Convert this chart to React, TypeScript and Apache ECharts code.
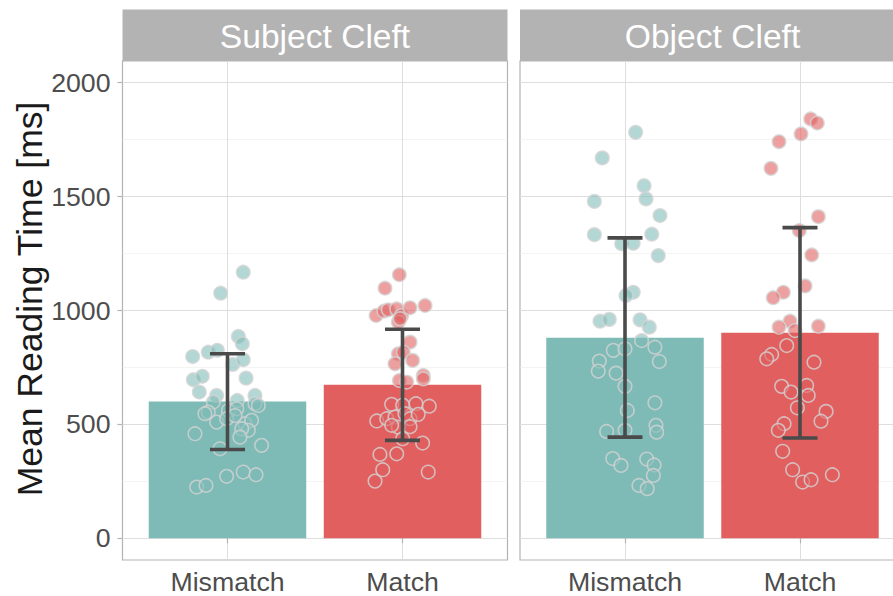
import React, { useEffect, useRef } from "react";
import * as echarts from "echarts";

// Facets, categories and summary statistics (mean reading time and error bar bounds, ms)
const panels = ["Subject Cleft", "Object Cleft"];
const categories = ["Mismatch", "Match"];

const subjectMeans = [600, 674];
const subjectErrLow = [390, 430];
const subjectErrHigh = [810, 918];

const objectMeans = [880, 902];
const objectErrLow = [444, 440];
const objectErrHigh = [1319, 1364];

const yTicks = [0, 500, 1000, 1500, 2000];
const yMinorTicks = [250, 750, 1250, 1750];
const yTitle = "Mean Reading Time [ms]";

// Per-participant means, [jittered category position, ms]
const subjectMismatchPoints = [
  [1.09, 1168], [0.961, 1076], [1.062, 886], [1.085, 854], [0.801, 798], [0.89, 817],
  [0.942, 825], [1.03, 763], [1.09, 784], [0.805, 696], [0.856, 711], [1.106, 703],
  [0.839, 642], [1.157, 627], [0.938, 627], [0.919, 598], [1.056, 605], [1.157, 591],
  [1.176, 583], [0.89, 554], [0.871, 547], [1.005, 561], [1.053, 569], [0.938, 510],
  [0.995, 525], [1.1, 503], [1.138, 518], [1.119, 474], [1.081, 481], [1.071, 444],
  [0.814, 459], [0.957, 393], [1.195, 408], [0.995, 272], [1.09, 291], [1.163, 279],
  [0.824, 225], [0.877, 232], [1.043, 539],
];

const subjectMatchPoints = [
  [1.982, 1157], [1.9, 1098], [1.849, 978], [1.894, 997], [1.919, 1003], [1.967, 1007],
  [1.995, 978], [2.043, 1012], [2.129, 1022], [1.976, 949], [2.043, 861], [1.976, 810],
  [2.005, 817], [2.058, 781], [1.957, 766], [1.982, 693], [2.024, 686], [2.119, 715],
  [2.119, 700], [1.938, 588], [2.001, 585], [2.077, 591], [2.153, 580], [1.853, 515],
  [1.91, 525], [1.957, 532], [2.014, 547], [2.043, 525], [2.09, 544], [1.976, 488],
  [2.043, 490], [2.001, 437], [2.115, 418], [1.871, 368], [1.967, 371], [1.887, 301],
  [1.843, 251], [2.147, 291], [1.938, 496], [1.986, 964],
];

const objectMismatchPoints = [
  [1.061, 1782], [0.87, 1670], [1.109, 1548], [1.12, 1490], [0.825, 1479], [1.2, 1417],
  [0.825, 1333], [1.153, 1335], [0.981, 1293], [1.047, 1295], [1.19, 1241], [1.047, 1080],
  [1.006, 1066], [0.857, 953], [0.91, 961], [1.086, 959], [1.139, 927], [1.095, 868],
  [0.933, 825], [1.0, 832], [1.171, 839], [0.853, 778], [1.196, 776], [0.847, 734],
  [0.949, 725], [1.0, 667], [1.013, 561], [1.171, 595], [0.895, 469], [1.0, 474],
  [1.177, 496], [1.181, 466], [0.93, 350], [0.977, 320], [1.124, 348], [1.166, 322],
  [1.162, 276], [1.08, 232], [1.127, 218],
];

const objectMatchPoints = [
  [2.061, 1841], [2.099, 1823], [2.006, 1775], [1.88, 1741], [1.834, 1624], [2.105, 1412],
  [1.996, 1351], [2.067, 1244], [2.029, 1108], [1.905, 1080], [1.847, 1056], [1.943, 953],
  [1.88, 927], [1.971, 912], [2.105, 931], [1.924, 846], [1.838, 807], [1.81, 788],
  [2.08, 773], [1.895, 667], [1.949, 642], [2.038, 671], [2.047, 627], [1.985, 573],
  [2.149, 557], [2.12, 514], [1.909, 503], [1.876, 474], [1.901, 382], [1.958, 301],
  [2.015, 247], [2.063, 257], [2.185, 279],
];

const TEAL = "#7ebbb6";
const RED = "#e15f5f";
const TEAL_PT = "rgba(126,187,182,0.74)";
const RED_PT = "rgba(225,95,95,0.74)";
const STRIP = "#b3b3b3";
const GRID_LINE = "#dedede";
const MINOR_LINE = "#ececec";
const TEXT = "#4d4d4d";
const FONT = "'Liberation Sans', Arial, Helvetica, sans-serif";

// Canvas is wider than the window so the right panel runs past the edge
const CANVAS_W = 912;
const CANVAS_H = 596;

// Panel geometry
const PANEL_TOP = 61;
const PANEL_H = 499;
const PANEL_W = 385;
const PANEL_LEFT = [122.5, 520];
const STRIP_TOP = 9.5;
const X_MIN = 0.4;
const X_MAX = 2.6;
const Y_MIN = -95.3;
const Y_MAX = 2095.3;

export default function App() {
  const ref = useRef<HTMLDivElement>(null);

  useEffect(() => {
    if (!ref.current) return;
    const chart = echarts.init(ref.current, null, { renderer: "svg" });

    const unitPx = PANEL_W / (X_MAX - X_MIN);
    const barWidth = unitPx * 0.9;

    const groups = [
      { means: subjectMeans, lo: subjectErrLow, hi: subjectErrHigh, pts: [subjectMismatchPoints, subjectMatchPoints] },
      { means: objectMeans, lo: objectErrLow, hi: objectErrHigh, pts: [objectMismatchPoints, objectMatchPoints] },
    ];
    const barColors = [TEAL, RED];
    const ptColors = [TEAL_PT, RED_PT];

    const grids = PANEL_LEFT.map((left) => ({
      left,
      top: PANEL_TOP,
      width: PANEL_W,
      height: PANEL_H,
      show: true,
      borderColor: STRIP,
      borderWidth: 1.2,
      backgroundColor: "transparent",
      containLabel: false,
    }));

    const xAxes = PANEL_LEFT.map((_, i) => ({
      type: "value",
      gridIndex: i,
      min: X_MIN,
      max: X_MAX,
      axisLine: { show: false },
      axisTick: {
        show: true,
        length: 5,
        customValues: [1, 2],
        lineStyle: { color: STRIP, width: 1.2 },
      },
      axisLabel: {
        customValues: [1, 2],
        formatter: (v: number) => categories[Math.round(v) - 1] ?? "",
        fontSize: 26.7,
        color: TEXT,
        fontFamily: FONT,
        margin: 8,
      },
      splitLine: { show: true, lineStyle: { color: GRID_LINE, width: 1 } },
    }));

    const yAxes: any[] = [];
    PANEL_LEFT.forEach((_, i) => {
      yAxes.push({
        type: "value",
        gridIndex: i,
        min: Y_MIN,
        max: Y_MAX,
        position: "left",
        axisLine: { show: false },
        axisTick: {
          show: i === 0,
          length: 5,
          customValues: yTicks,
          lineStyle: { color: STRIP, width: 1.2 },
        },
        axisLabel: {
          show: i === 0,
          customValues: yTicks,
          formatter: (v: number) => String(v),
          fontSize: 26.7,
          color: TEXT,
          fontFamily: FONT,
          margin: 12,
        },
        splitLine: { show: true, lineStyle: { color: GRID_LINE, width: 1 } },
      });
      yAxes.push({
        type: "value",
        gridIndex: i,
        min: Y_MIN,
        max: Y_MAX,
        position: "right",
        axisLine: { show: false },
        axisTick: { show: false, customValues: yMinorTicks },
        axisLabel: { show: false, customValues: yMinorTicks },
        splitLine: { show: true, lineStyle: { color: MINOR_LINE, width: 0.6 } },
      });
    });

    const series: any[] = [];
    groups.forEach((g, p) => {
      series.push({
        type: "bar",
        xAxisIndex: p,
        yAxisIndex: p * 2,
        barWidth,
        z: 2,
        data: g.means.map((m, c) => ({
          value: [c + 1, m],
          itemStyle: { color: barColors[c] },
        })),
      });
      g.pts.forEach((pts, c) => {
        series.push({
          type: "scatter",
          xAxisIndex: p,
          yAxisIndex: p * 2,
          z: 3,
          symbol: "circle",
          symbolSize: 13.5,
          itemStyle: { color: ptColors[c], borderColor: "#d3d3d3", borderWidth: 1.6 },
          data: pts,
        });
      });
      series.push({
        type: "custom",
        xAxisIndex: p,
        yAxisIndex: p * 2,
        z: 4,
        encode: { x: 0, y: [1, 2] },
        data: g.means.map((_, c) => [c + 1, g.lo[c], g.hi[c]]),
        renderItem: (params: any, api: any) => {
          const x = api.value(0);
          const top = api.coord([x, api.value(2)]);
          const bot = api.coord([x, api.value(1)]);
          const half = api.size([0.1, 0])[0];
          const style = { stroke: "#4a4a4a", lineWidth: 3.6 };
          return {
            type: "group",
            children: [
              { type: "line", shape: { x1: top[0], y1: top[1], x2: bot[0], y2: bot[1] }, style },
              { type: "line", shape: { x1: top[0] - half, y1: top[1], x2: top[0] + half, y2: top[1] }, style },
              { type: "line", shape: { x1: bot[0] - half, y1: bot[1], x2: bot[0] + half, y2: bot[1] }, style },
            ],
          };
        },
      });
    });

    const graphic: any[] = [];
    panels.forEach((label, i) => {
      graphic.push({
        type: "rect",
        shape: { x: PANEL_LEFT[i], y: STRIP_TOP, width: PANEL_W, height: PANEL_TOP - STRIP_TOP },
        style: { fill: STRIP },
        z: 10,
      });
      graphic.push({
        type: "text",
        x: PANEL_LEFT[i] + PANEL_W / 2,
        y: (STRIP_TOP + PANEL_TOP) / 2 + 1,
        style: {
          text: label,
          fill: "#ffffff",
          fontSize: 33.6,
          fontFamily: FONT,
          align: "center",
          verticalAlign: "middle",
        },
        z: 11,
      });
    });
    // Y axis title, rotated to read bottom-to-top
    graphic.push({
      type: "text",
      x: 30,
      y: 299,
      rotation: Math.PI / 2,
      style: {
        text: yTitle,
        fill: "#1a1a1a",
        fontSize: 35.5,
        fontFamily: FONT,
        align: "center",
        verticalAlign: "middle",
      },
      z: 11,
    });

    chart.setOption({
      animation: false,
      backgroundColor: "#ffffff",
      grid: grids,
      xAxis: xAxes,
      yAxis: yAxes,
      series,
      graphic,
    });

    return () => chart.dispose();
  }, []);

  return (
    <div
      ref={ref}
      style={{ position: "fixed", left: 0, top: 0, width: CANVAS_W, height: CANVAS_H }}
    />
  );
}
